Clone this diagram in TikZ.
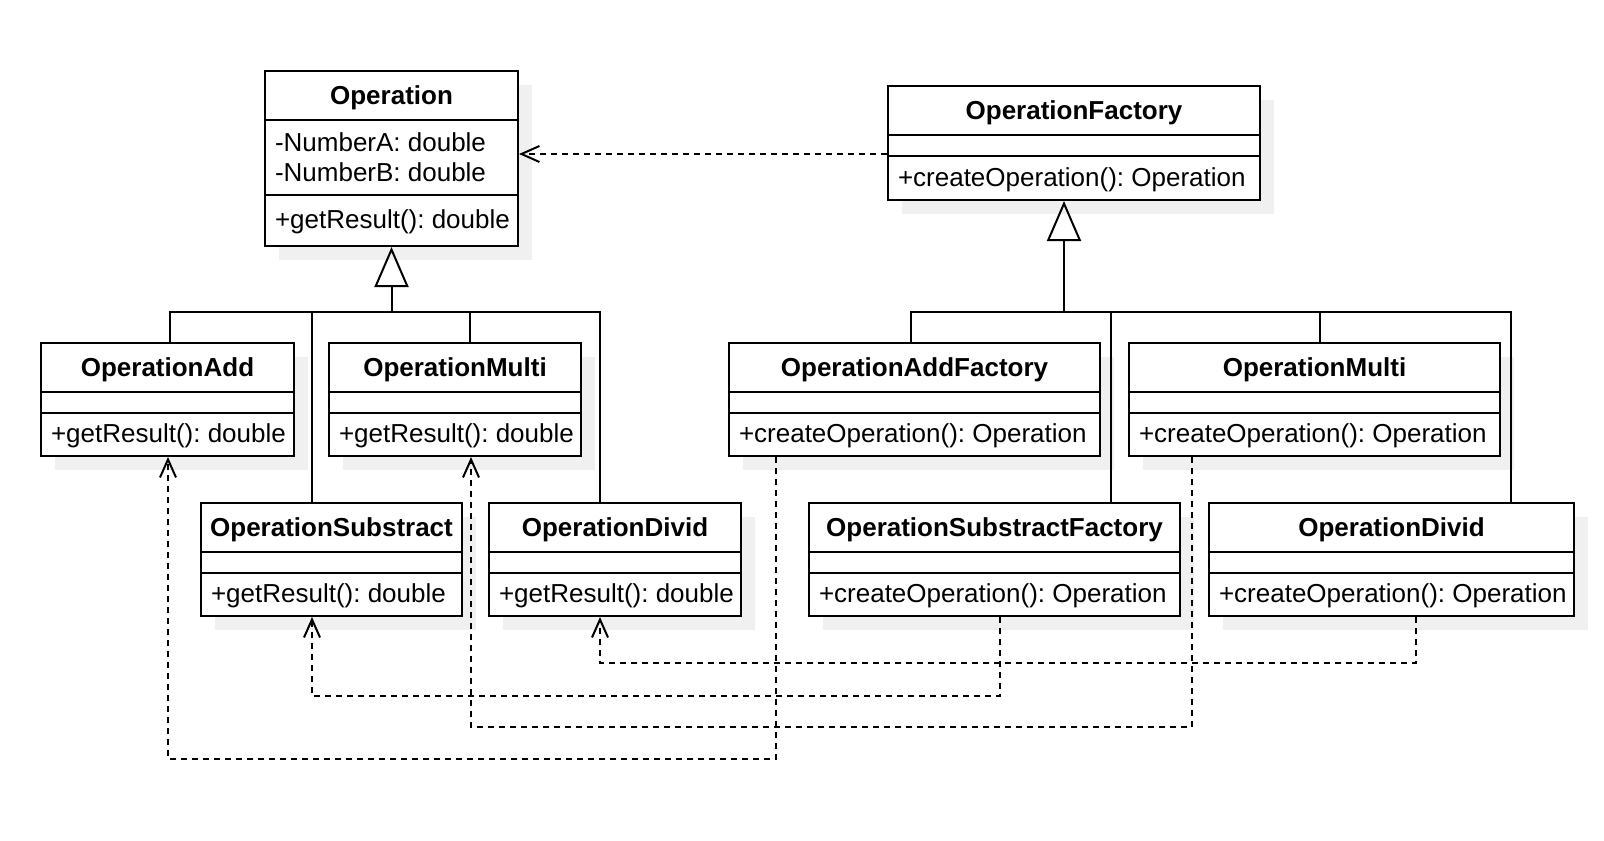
\documentclass[tikz,border=0pt]{standalone}
\usepackage{fontspec}
\setmainfont{Liberation Sans}
\usepackage{tikz}
\usetikzlibrary{arrows.meta,calc,shadows,positioning}
\frenchspacing
\tikzset{
  classbox/.style={draw, fill=white, anchor=north west, inner sep=0pt,
    drop shadow={shadow xshift=7pt, shadow yshift=-7pt, fill=black!6, opacity=1}},
  classname/.style={font=\fontsize{13}{15.6}\selectfont\bfseries, inner sep=0pt},
  classtext/.style={font=\fontsize{13}{15}\selectfont, inner sep=0pt, anchor=west, align=left},
  inherit/.style={-{Triangle[open, length=20pt, width=17pt]}},
  depend/.style={dash pattern=on 3pt off 2.5pt, -{Straight Barb[length=9pt, width=8pt]}}
}
% name, corner, width, height, attribute height, title, attributes, methods
\newcommand\umlclass[8]{%
  \node[classbox, minimum width=#3*0.5pt, minimum height=#4*0.5pt] (#1) at #2 {};%
  \node[classname] (#1-name) at ($(#1.north)+(0,28)$) {#6};%
  \draw ($(#1.north west)+(0,50)$) -- ($(#1.north east)+(0,50)$);%
  \draw ($(#1.north west)+(0,{50+#5})$) -- ($(#1.north east)+(0,{50+#5})$);%
  \if\relax\detokenize{#7}\relax\else
    \node[classtext] (#1-attr) at ($(#1.north west)+(10,{50+#5/2})$) {#7};%
  \fi
  \node[classtext] (#1-ops) at ($(#1.south west)+(10,{-(#4-50-#5)/2})$) {#8};%
}

\begin{document}
\begin{tikzpicture}[line width=1pt, x=0.5pt, y=-0.5pt]
\useasboundingbox (0,0) rectangle (1604,840);
% operations
\umlclass{op}{(264,70)}{253}{175}{75}{Operation}{-NumberA: double\\-NumberB: double}{+getResult(): double} %%
\umlclass{opAdd}{(40,342)}{253}{113}{21}{OperationAdd}{}{+getResult(): double} %%
\umlclass{opMul}{(328,342)}{252}{113}{21}{OperationMulti}{}{+getResult(): double} %%
\umlclass{opSub}{(200,502)}{261}{113}{21}{OperationSubstract}{}{+getResult(): double} %%
\umlclass{opDiv}{(488,502)}{252}{113}{21}{OperationDivid}{}{+getResult(): double} %%
% factories
\umlclass{fac}{(887,85)}{372}{114}{21}{OperationFactory}{}{+createOperation(): Operation} %%
\umlclass{facAdd}{(728,342)}{371}{113}{21}{OperationAddFactory}{}{+createOperation(): Operation} %%
\umlclass{facMul}{(1128,342)}{371}{113}{21}{OperationMulti}{}{+createOperation(): Operation} %%
\umlclass{facSub}{(808,502)}{371}{113}{21}{OperationSubstractFactory}{}{+createOperation(): Operation} %%
\umlclass{facDiv}{(1208,502)}{365}{113}{21}{OperationDivid}{}{+createOperation(): Operation} %%

\coordinate (busL) at ($(op.south)+(0,65)$);
\coordinate (tipR) at ($(fac.south west)+(177,0)$);
\coordinate (busR) at ($(tipR)+(0,111)$);
\draw[inherit] (busL) -- (op.south); %%
\draw ($(opAdd.north west)+(130,0)$) |- (busL); %%
\draw ($(opSub.north west)+(112,0)$) |- (busL); %%
\draw ($(opMul.north west)+(142,0)$) |- (busL); %%
\draw ($(opDiv.north west)+(112,0)$) |- (busL); %%
\draw[inherit] (busR) -- (tipR); %%
\draw ($(facAdd.north west)+(183,0)$) |- (busR); %%
\draw ($(facSub.north west)+(303,0)$) |- (busR); %%
\draw ($(facMul.north west)+(192,0)$) |- (busR); %%
\draw ($(facDiv.north west)+(303,0)$) |- (busR); %%

\draw[depend] ($(fac.north west)+(0,69)$) -- ($(op.north east)+(0,84)$); %%
\draw[depend] ($(facAdd.south west)+(48,0)$) -- ++(0,302) -| ($(opAdd.south west)+(128,0)$); %%
\draw[depend] ($(facMul.south west)+(64,0)$) -- ++(0,270) -| ($(opMul.south west)+(143,0)$); %%
\draw[depend] ($(facSub.south west)+(192,0)$) -- ++(0,79) -| ($(opSub.south west)+(112,0)$); %%
\draw[depend] ($(facDiv.south west)+(208,0)$) -- ++(0,46) -| ($(opDiv.south west)+(112,0)$); %%
\end{tikzpicture}
\end{document}
